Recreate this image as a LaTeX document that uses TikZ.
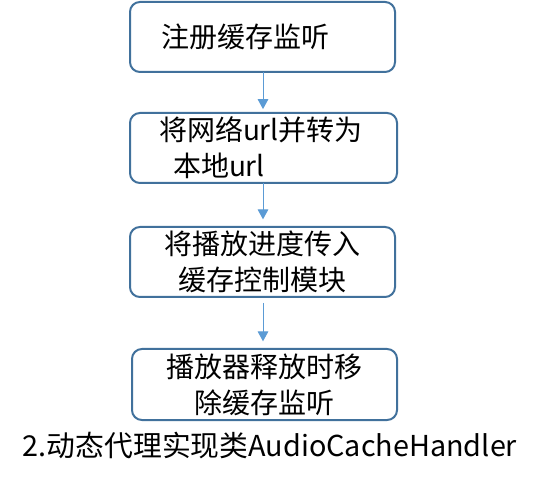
\documentclass[tikz,border=0pt]{standalone}
\usepackage{fontspec}
\newfontfamily\cjk{Noto Sans CJK SC}
\usetikzlibrary{arrows.meta}
\definecolor{fcFrame}{HTML}{41719C}
\definecolor{fcArrow}{HTML}{5B9BD5}
\tikzset{
  fc step/.style={
    draw=fcFrame, fill=white, line width=1.5pt,
    rounded corners=2.6mm,
    minimum width=198.75pt, minimum height=52.5pt,
    font=\cjk\fontsize{21}{27}\selectfont, text=black,
    align=center, inner ysep=0pt
  },
  fc flow/.style={
    draw=fcArrow, line width=.75pt,
    -{Triangle[length=7.5pt,width=8pt]}
  },
  fc caption/.style={font=\cjk\fontsize{21.6}{26}\selectfont, text=black}
}
\begin{document}
\begin{tikzpicture}[x=.75pt,y=-.75pt]
  \useasboundingbox[fill=white] (0,0) rectangle (546,484);

  \node[fc step, align=left, inner xsep=23.25pt, text width=152.25pt]
    (reg) at (262.5,37) {注册缓存监听};
  \node[fc step, align=left, inner xsep=21.75pt, text width=156.75pt]
    (conv) at (263.5,148) {将网络url并转为\\\hspace*{10.5pt}本地url};
  \node[fc step] (prog) at (262.5,262) {将播放进度传入\\缓存控制模块};
  \node[fc step, minimum height=53.25pt] (rel) at (264.5,384.5)
    {播放器释放时移\\除缓存监听};

  \coordinate (a1) at (263,72);
  \coordinate (a2) at (263,183);
  \coordinate (a3) at (263,303);
  \draw[fc flow, shorten >=2.2pt] (a1) -- (a1 |- conv.north);
  \draw[fc flow, shorten >=5pt] (a2) -- (a2 |- prog.north);
  \draw[fc flow, shorten >=5pt] (a3) -- (a3 |- rel.north);

  \node[fc caption] (cap) at (270,445) {2.动态代理实现类AudioCacheHandler};
\end{tikzpicture}
\end{document}
